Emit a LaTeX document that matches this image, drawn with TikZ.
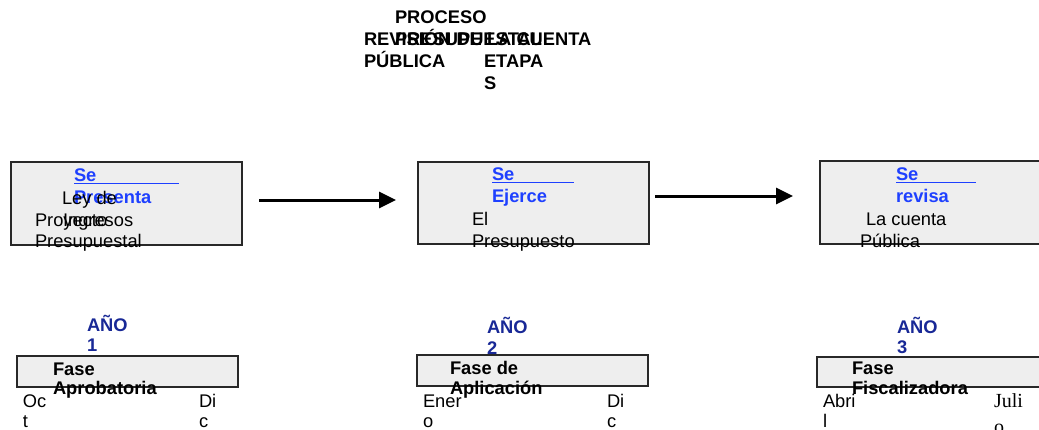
\documentclass[tikz,border=0pt]{standalone}
\usepackage{fontspec}
\setmainfont{Liberation Sans}
\newfontfamily\serifj{Liberation Serif}
\usetikzlibrary{arrows.meta}
\definecolor{seblue}{RGB}{30,64,255}
\definecolor{anonavy}{RGB}{24,40,150}
\definecolor{boxfill}{RGB}{238,238,238}
\definecolor{boxline}{RGB}{40,40,40}
\tikzset{
  txt/.style={inner sep=0pt, outer sep=0pt, anchor=base west, font=\fontsize{18.3}{22}\selectfont},
  btxt/.style={txt, font=\fontsize{18.3}{22}\selectfont\bfseries},
  bluetxt/.style={btxt, text=seblue},
  navytxt/.style={btxt, text=anonavy},
  sertxt/.style={inner sep=0pt, outer sep=0pt, anchor=base west, font=\serifj\fontsize{20}{24}\selectfont},
  boxstyle/.style={draw=boxline, fill=boxfill, line width=1.2pt, inner sep=0pt, outer sep=0pt},
  uline/.style={draw=seblue, line width=1.3pt},
  flowarrow/.style={draw=black, line width=3pt, -{Triangle[length=17pt,width=16pt]}},
}
\begin{document}
\begin{tikzpicture}[x=1pt,y=-1pt]
\useasboundingbox (0,0) rectangle (1039,429);
\clip (0,0) rectangle (1039,429);
% title texts
\node[btxt] (t1a) at (395,23.3) {PROCESO};
\node[btxt] (t1b) at (395,45.5) {PRESUPUESTAL};
\node[btxt] (t2a) at (364,45.5) {REVISIÓN DE LA CUENTA};
\node[btxt] (t2b) at (364,67) {PÚBLICA};
\node[btxt] (t3a) at (484,67) {ETAPA};
\node[btxt] (t3b) at (484,89) {S};
% upper boxes
\node[boxstyle, minimum width=231pt, minimum height=83pt] (b1) at (126.5,203.5) {};
\node[boxstyle, minimum width=231pt, minimum height=82pt] (b2) at (533.5,203) {};
\node[boxstyle, minimum width=240pt, minimum height=83pt] (b3) at (940,202.5) {};
% box 1 texts
\node[bluetxt] (s1a) at (74,181) {Se};
\coordinate (u1s) at (74,183.5);
\coordinate (u1e) at (179,183.5);
\draw[uline] (u1s) -- (u1e);
\node[bluetxt] (s1b) at (74,203) {Presenta};
\node[txt] (l1a) at (62,204) {Ley de};
\node[txt] (l1b) at (63,226) {Ingresos};
\node[txt] (p1a) at (35,226) {Proyecto};
\node[txt] (p1b) at (35,247.5) {Presupuestal};
% box 2 texts
\node[bluetxt] (s2a) at (492,180) {Se};
\coordinate (u2s) at (492,182.5);
\coordinate (u2e) at (574,182.5);
\draw[uline] (u2s) -- (u2e);
\node[bluetxt] (s2b) at (492,202) {Ejerce};
\node[txt] (e2a) at (472,225) {El};
\node[txt] (e2b) at (472,247) {Presupuesto};
% box 3 texts
\node[bluetxt] (s3a) at (896,180) {Se};
\coordinate (u3s) at (896,182.5);
\coordinate (u3e) at (976,182.5);
\draw[uline] (u3s) -- (u3e);
\node[bluetxt] (s3b) at (896,202) {revisa};
\node[txt] (c3a) at (866,225) {La cuenta};
\node[txt] (c3b) at (860,247) {Pública};
% arrows
\coordinate (a1s) at (259,200);
\coordinate (a1e) at (396,200);
\draw[flowarrow] (a1s) -- (a1e);
\coordinate (a2s) at (655,196);
\coordinate (a2e) at (793,196);
\draw[flowarrow] (a2s) -- (a2e);
% lower boxes
\node[boxstyle, minimum width=221pt, minimum height=31pt] (f1) at (127.5,371.5) {};
\node[boxstyle, minimum width=231pt, minimum height=31pt] (f2) at (532.5,370.5) {};
\node[boxstyle, minimum width=240pt, minimum height=30pt] (f3) at (937,372) {};
% year 1
\node[navytxt] (y1a) at (87,331.5) {AÑO};
\node[navytxt] (y1b) at (87,351) {1};
\node[btxt] (ph1a) at (53,375) {Fase};
\node[btxt] (ph1b) at (53,394.3) {Aprobatoria};
\node[txt] (m1a) at (23,407) {Oc};
\node[txt] (m1b) at (23,427) {t};
\node[txt] (m1c) at (199,407) {Di};
\node[txt] (m1d) at (199,427) {c};
% year 2
\node[navytxt] (y2a) at (487,333.3) {AÑO};
\node[navytxt] (y2b) at (487,354) {2};
\node[btxt] (ph2a) at (450,374.5) {Fase de};
\node[btxt] (ph2b) at (450,394.3) {Aplicación};
\node[txt] (m2a) at (423,407) {Ener};
\node[txt] (m2b) at (423,427) {o};
\node[txt] (m2c) at (607,407) {Di};
\node[txt] (m2d) at (607,427) {c};
% year 3
\node[navytxt] (y3a) at (897,333.3) {AÑO};
\node[navytxt] (y3b) at (897,353.5) {3};
\node[btxt] (ph3a) at (852,374.5) {Fase};
\node[btxt] (ph3b) at (852,394.3) {Fiscalizadora};
\node[txt] (m3a) at (823,407) {Abri};
\node[txt] (m3b) at (823,427) {l};
\node[sertxt] (m3c) at (994,407) {Juli};
\node[sertxt] (m3d) at (994,433) {o};
\end{tikzpicture}
\end{document}
